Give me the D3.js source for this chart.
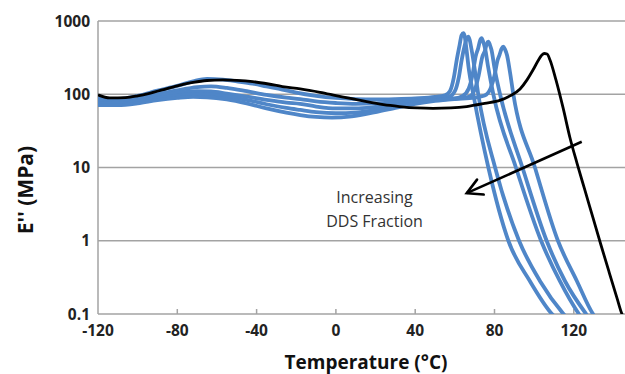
<!DOCTYPE html>
<html>
<head>
<meta charset="utf-8">
<script src="https://cdn.jsdelivr.net/npm/d3@7"></script>
<style>
  html, body { margin: 0; padding: 0; background: #fff; }
  svg { display: block; }
</style>
</head>
<body>
<svg id="chart" width="625" height="374"></svg>
<script>
// ---- Data (temperature in °C, E'' in MPa) ----
const xTicks = [-120, -80, -40, 0, 40, 80, 120];
const yTicks = [0.1, 1, 10, 100, 1000];
const yTickLabels = ["0.1", "1", "10", "100", "1000"];
const xTitle = "Temperature (°C)";
const yTitle = "E'' (MPa)";
const annotationLines = ["Increasing", "DDS Fraction"];
// arrow start / end in data units [T, E'']
const arrowFrom = [124, 22.5];
const arrowTo = [66, 4.46];
const annotationAt = [19.5, 3.3];

const black = [[-120,98],[-114,89],[-106,90],[-100,95],[-94,103],[-87,116],[-80,130],[-72,145],[-65,154],[-57,157],[-50,155],[-42,149],[-34,138],[-27,127],[-18,118],[-8,106],[0,96],[8,87],[15.5,79],[24,72],[32,68],[41,65],[49,64],[58,65],[66,68],[75,75],[83,83],[87.8,95],[92.9,118],[96.4,157],[99.4,214],[101.9,284],[103.5,333],[105,360],[106.5,354],[108,294],[111,157],[114.6,65],[118.1,25.3],[121.6,11.5],[125.6,4.9],[129.7,2.05],[133.7,0.875],[137.8,0.374],[141.8,0.165],[144.3,0.1],[146.3,0.082]];

const blue1 = [[-120,88],[-110,86],[-100,95],[-90,112],[-80,130],[-72,150],[-65,162],[-57,158],[-50,150],[-42,140],[-35,128],[-27,116],[-20,105],[-10,95],[0,89],[10,86],[20,85],[30,86],[40,88],[50,92],[55,97],[57.5,110],[59.5,170],[61,300],[62.4,470],[63.4,640],[64.3,680],[65,610],[65.6,470],[67.1,214],[69.3,100],[76.9,10],[87,1],[97.9,0.28],[109,0.1],[111,0.088]];

const blue2 = [[-120,82],[-110,80],[-100,88],[-90,100],[-80,113],[-70,125],[-63,128],[-55,122],[-45,110],[-35,98],[-25,90],[-18,86],[-10,80],[0,76],[10,74],[20,75],[30,78],[40,83],[50,88],[57,92],[60,110],[62,170],[63.5,300],[64.9,456],[65.9,570],[66.8,611],[67.5,550],[68.1,456],[69.7,251],[71.8,100],[80.3,10],[92.4,1],[103,0.28],[114.8,0.1],[116.6,0.088]];

const blue3 = [[-120,78],[-110,77],[-100,83],[-90,95],[-80,104],[-70,110],[-63,109],[-55,102],[-45,93],[-35,84],[-25,77],[-18,74],[-10,68],[0,64],[10,64],[20,67],[30,72],[40,79],[50,85],[60,88],[64,95],[67,120],[69,190],[70.5,330],[71.8,428],[72.7,540],[73.5,581],[74.3,520],[75.2,428],[76.7,243],[79.4,100],[90.8,10],[103.5,1],[113,0.28],[122.6,0.1],[124.1,0.088]];

const blue4 = [[-120,75],[-110,74],[-100,79],[-90,88],[-80,96],[-70,100],[-63,99],[-55,93],[-45,84],[-35,73],[-25,65],[-18,61],[-10,57],[0,55],[10,56],[20,61],[30,68],[40,76],[50,83],[60,87],[67,92],[70,115],[72,180],[73.8,320],[75.3,402],[76.1,490],[76.9,523],[77.7,470],[78.5,402],[80,228],[82.8,100],[94.1,10],[106.3,1],[115.6,0.28],[126.2,0.1],[127.7,0.088]];

const blue5 = [[-120,71],[-110,71],[-100,75],[-90,83],[-80,89],[-72,92],[-65,91],[-55,85],[-45,75],[-35,64],[-25,56],[-18,52],[-10,49],[-2,48],[8,50],[20,57],[30,65],[40,74],[50,81],[60,86],[70,90],[75,96],[78,120],[80,180],[81.5,290],[82.5,343],[83.6,420],[84.4,446],[85.3,410],[86.3,343],[87.8,201],[89.5,100],[100.4,10],[112,1],[121.6,0.28],[129.7,0.1],[131.2,0.088]];

const blueSeries = [blue1, blue2, blue3, blue4, blue5];

// ---- Layout ----
const svg = d3.select("#chart");
const W = 625, H = 374;
const plotLeft = 98, plotTop = 21, plotBottom = 314;

const x = d3.scaleLinear().domain([-120, 150]).range([plotLeft, plotLeft + 270 * 1.9825]);
const y = d3.scaleLog().domain([0.1, 1000]).range([plotBottom, plotTop]);

const gridColor = "#a3a3a3";
const fontFamily = "'Open Sans', 'Liberation Sans', sans-serif";

// gridlines
svg.append("g").selectAll("line").data(yTicks).join("line")
  .attr("x1", plotLeft).attr("x2", W)
  .attr("y1", d => y(d)).attr("y2", d => y(d))
  .attr("stroke", gridColor).attr("stroke-width", 1.5);

// left axis line
svg.append("line").attr("x1", plotLeft).attr("x2", plotLeft)
  .attr("y1", plotTop).attr("y2", plotBottom)
  .attr("stroke", gridColor).attr("stroke-width", 1.5);

// x ticks (inward)
svg.append("g").selectAll("line").data(xTicks.slice(1)).join("line")
  .attr("x1", d => x(d)).attr("x2", d => x(d))
  .attr("y1", plotBottom).attr("y2", plotBottom - 5)
  .attr("stroke", gridColor).attr("stroke-width", 1.5);

// y tick labels
svg.append("g").selectAll("text").data(yTicks).join("text")
  .attr("x", 90).attr("y", d => y(d)).attr("dy", "0.36em")
  .attr("text-anchor", "end")
  .attr("font-family", fontFamily).attr("font-weight", "bold")
  .attr("font-size", 15.5).attr("fill", "#222")
  .text((d, i) => yTickLabels[i]);

// x tick labels
svg.append("g").selectAll("text").data(xTicks).join("text")
  .attr("x", d => x(d)).attr("y", 336)
  .attr("text-anchor", "middle")
  .attr("font-family", fontFamily).attr("font-weight", "bold")
  .attr("font-size", 15.5).attr("fill", "#222")
  .text(d => d);

// axis titles
svg.append("text").attr("x", 366).attr("y", 369)
  .attr("text-anchor", "middle")
  .attr("font-family", fontFamily).attr("font-weight", "bold")
  .attr("font-size", 19).attr("fill", "#111")
  .text(xTitle);

svg.append("text").attr("transform", "translate(33,190) rotate(-90)")
  .attr("text-anchor", "middle")
  .attr("font-family", fontFamily).attr("font-weight", "bold")
  .attr("font-size", 21).attr("fill", "#111")
  .text(yTitle);

// clip
svg.append("clipPath").attr("id", "plotClip")
  .append("rect").attr("x", plotLeft).attr("y", 0).attr("width", W - plotLeft).attr("height", plotBottom);

const line = d3.line()
  .x(d => x(d[0])).y(d => y(d[1]))
  .curve(d3.curveMonotoneX);

const plot = svg.append("g").attr("clip-path", "url(#plotClip)");

plot.selectAll("path.blue").data(blueSeries).join("path")
  .attr("class", "blue")
  .attr("d", line)
  .attr("fill", "none")
  .attr("stroke", "#4f86c8")
  .attr("stroke-width", 3.8)
  .attr("stroke-linejoin", "round");

plot.append("path").datum(black)
  .attr("d", line)
  .attr("fill", "none")
  .attr("stroke", "#000")
  .attr("stroke-width", 2.8)
  .attr("stroke-linejoin", "round");

// annotation arrow
const ax1 = x(arrowFrom[0]), ay1 = y(arrowFrom[1]);
const ax2 = x(arrowTo[0]), ay2 = y(arrowTo[1]);
svg.append("line").attr("x1", ax1).attr("y1", ay1).attr("x2", ax2).attr("y2", ay2)
  .attr("stroke", "#000").attr("stroke-width", 2.6);
const ang = Math.atan2(ay2 - ay1, ax2 - ax1);
const headLen = 17, spread = 0.5;
const hp = [
  [ax2 - headLen * Math.cos(ang - spread), ay2 - headLen * Math.sin(ang - spread)],
  [ax2, ay2],
  [ax2 - headLen * Math.cos(ang + spread), ay2 - headLen * Math.sin(ang + spread)]
];
svg.append("path").attr("d", d3.line()(hp))
  .attr("fill", "none").attr("stroke", "#000").attr("stroke-width", 2.6)
  .attr("stroke-linejoin", "miter").attr("stroke-linecap", "round");

svg.append("g").selectAll("text").data(annotationLines).join("text")
  .attr("x", x(annotationAt[0]))
  .attr("y", (d, i) => y(annotationAt[1]) + i * 24)
  .attr("text-anchor", "middle")
  .attr("font-family", fontFamily)
  .attr("font-size", 16).attr("fill", "#333")
  .text(d => d);
</script>
</body>
</html>
